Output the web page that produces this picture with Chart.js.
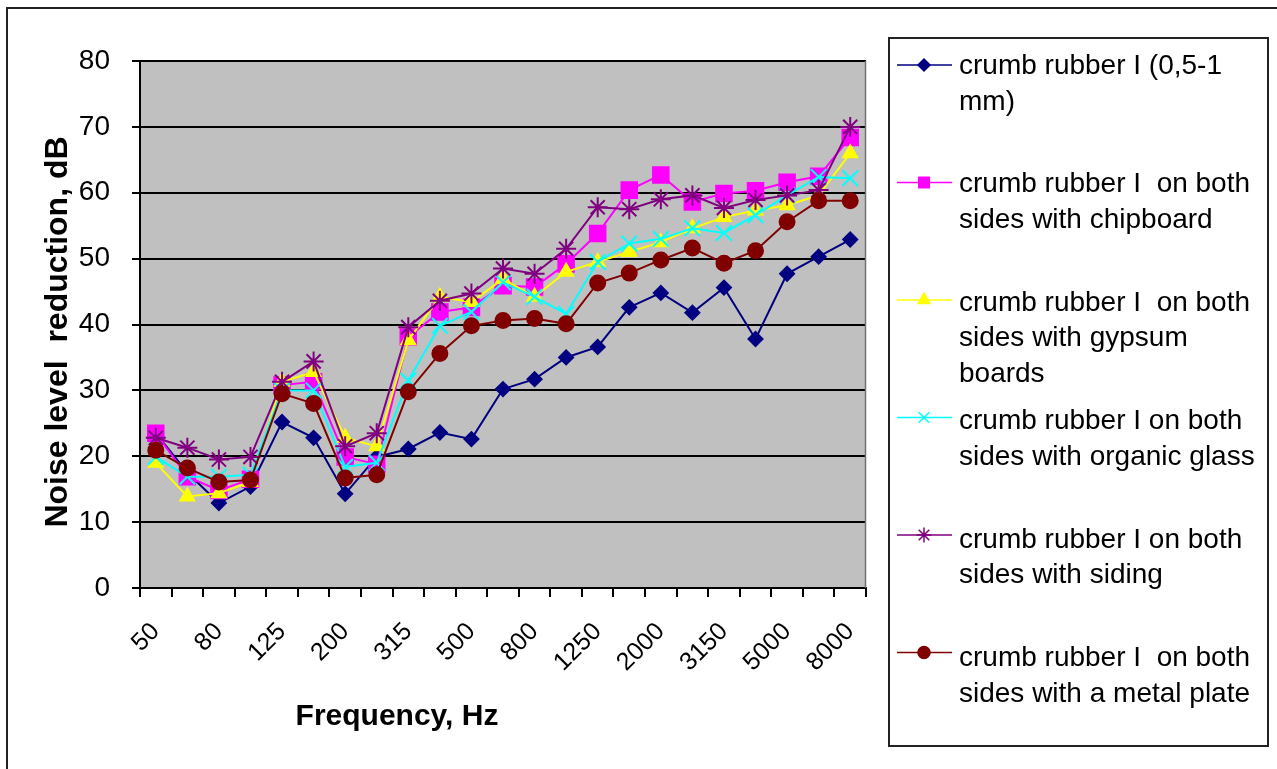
<!DOCTYPE html>
<html>
<head>
<meta charset="utf-8">
<script src="https://cdn.jsdelivr.net/npm/chart.js"></script>
<style>
  body { margin: 0; background: #fff; }
  #wrap { position: relative; width: 1277px; height: 769px; }
</style>
</head>
<body>
<div id="wrap"><canvas id="noiseChart"></canvas></div>
<script>
var frequencies = ["50", "63", "80", "100", "125", "160", "200", "250", "315", "400", "500", "630",
  "800", "1000", "1250", "1600", "2000", "2500", "3150", "4000", "5000", "6300", "8000"];

var crumbRubber = [23.5, 17.5, 12.9, 15.4, 25.2, 22.8, 14.3, 19.9, 21.1, 23.6, 22.6, 30.2,
  31.7, 35, 36.6, 42.6, 44.8, 41.8, 45.6, 37.8, 47.7, 50.3, 52.9];
var chipboard = [23.5, 16.9, 14.8, 16.5, 30.8, 31.3, 19.9, 18.8, 38.1, 41.9, 42.6, 45.9,
  45.7, 49.2, 53.8, 60.4, 62.7, 58.6, 59.9, 60.3, 61.6, 62.5, 68.4];
var gypsum = [19, 13.9, 14.4, 16.1, 31.3, 32.8, 22.8, 21.5, 37.6, 44.2, 43.4, 46.9,
  44.2, 48, 49.5, 51, 52.5, 54.6, 56.3, 57.3, 58.1, 59.6, 66];
var organicGlass = [19.9, 16.9, 16.9, 17.2, 30, 30, 18.4, 19, 31.5, 39.8, 41.9, 46.4,
  44.2, 41.6, 49.5, 52.3, 53, 54.6, 53.9, 56.6, 59.6, 62.4, 62.2];
var siding = [22.8, 21.3, 19.5, 19.9, 31.3, 34.4, 21.5, 23.5, 39.6, 43.6, 44.7, 48.5,
  47.7, 51.5, 57.8, 57.5, 59, 59.6, 57.7, 58.9, 59.6, 60.4, 70];
var metalPlate = [20.9, 18.2, 16.1, 16.4, 29.5, 28, 16.7, 17.2, 29.8, 35.6, 39.8, 40.6,
  40.9, 40.1, 46.3, 47.8, 49.8, 51.6, 49.3, 51.2, 55.6, 58.8, 58.8];

var yTicks = [0, 10, 20, 30, 40, 50, 60, 70, 80];

var seriesNames = [
  ["crumb rubber I (0,5-1", "mm)"],
  ["crumb rubber I  on both", "sides with chipboard"],
  ["crumb rubber I  on both", "sides with gypsum", "boards"],
  ["crumb rubber I on both", "sides with organic glass"],
  ["crumb rubber I on both", "sides with siding"],
  ["crumb rubber I  on both", "sides with a metal plate"]
];
var seriesData = [crumbRubber, chipboard, gypsum, organicGlass, siding, metalPlate];
var seriesColors = ["#000080", "#ff00ff", "#ffff00", "#00ffff", "#800080", "#800000"];
var seriesMarkers = ["rectRot", "rect", "triangle", "crossRot", "star", "circle"];
var markerSizes = [7, 11, 8, 11, 10, 7.5];
var legendSizes = [6, 7.5, 7, 7.5, 7.5, 6];

var font = "'Liberation Sans', Arial, sans-serif";

// gray plot area, outer frame, titles and the legend box
var framePlugin = {
  id: "framePlugin",
  beforeDraw: function (chart) {
    var ctx = chart.ctx, a = chart.chartArea;
    ctx.save();
    ctx.fillStyle = "#fff";
    ctx.fillRect(0, 0, chart.width, chart.height);
    ctx.fillStyle = "#c0c0c0";
    ctx.fillRect(a.left, a.top, a.right - a.left, a.bottom - a.top);
    ctx.restore();
  },
  afterDraw: function (chart) {
    var ctx = chart.ctx, a = chart.chartArea;
    ctx.save();
    // plot area right edge
    ctx.strokeStyle = "#707070";
    ctx.lineWidth = 1.5;
    ctx.beginPath();
    ctx.moveTo(a.right - 0.5, a.top);
    ctx.lineTo(a.right - 0.5, a.bottom);
    ctx.stroke();

    // outer frame
    ctx.strokeStyle = "#222";
    ctx.lineWidth = 2;
    ctx.beginPath();
    ctx.moveTo(7, chart.height);
    ctx.lineTo(7, 8);
    ctx.lineTo(chart.width, 8);
    ctx.stroke();

    // axis titles
    ctx.fillStyle = "#000";
    ctx.font = "bold 30px " + font;
    ctx.textAlign = "center";
    ctx.textBaseline = "middle";
    ctx.fillText("Frequency, Hz", 397, 717);
    ctx.font = "bold 32px " + font;
    ctx.translate(58, 332);
    ctx.rotate(-Math.PI / 2);
    ctx.fillText("Noise level  reduction, dB", 0, 0);
    ctx.setTransform(1, 0, 0, 1, 0, 0);

    // legend
    ctx.strokeStyle = "#222";
    ctx.lineWidth = 2;
    ctx.strokeRect(889, 38, 379, 708);
    ctx.font = "28px " + font;
    ctx.textAlign = "left";
    ctx.textBaseline = "alphabetic";
    for (var i = 0; i < seriesNames.length; i++) {
      var my = 65 + i * 117.5;
      var by = 74 + i * 118.4;
      ctx.strokeStyle = seriesColors[i];
      ctx.fillStyle = seriesColors[i];
      ctx.lineWidth = 1.5;
      ctx.beginPath();
      ctx.moveTo(897, my);
      ctx.lineTo(952, my);
      ctx.stroke();
      Chart.helpers.drawPoint(ctx, {
        pointStyle: seriesMarkers[i],
        radius: legendSizes[i],
        rotation: 0,
        borderWidth: 1.5
      }, 924, my);
      ctx.fillStyle = "#000";
      for (var k = 0; k < seriesNames[i].length; k++) {
        ctx.fillText(seriesNames[i][k], 959, by + k * 35.5);
      }
    }
    ctx.restore();
  }
};

var datasets = seriesData.map(function (data, i) {
  return {
    label: seriesNames[i].join(" "),
    data: data,
    borderColor: seriesColors[i],
    backgroundColor: seriesColors[i],
    pointBackgroundColor: seriesColors[i],
    pointBorderColor: seriesColors[i],
    pointStyle: seriesMarkers[i],
    pointRadius: markerSizes[i],
    pointBorderWidth: 2,
    borderWidth: 2,
    tension: 0,
    fill: false,
    order: seriesData.length - i
  };
});

new Chart(document.getElementById("noiseChart"), {
  type: "line",
  data: { labels: frequencies, datasets: datasets },
  options: {
    responsive: true,
    maintainAspectRatio: false,
    animation: false,
    layout: { padding: { top: 61, right: 411, bottom: 0, left: 0 } },
    plugins: {
      legend: { display: false },
      tooltip: { enabled: false }
    },
    scales: {
      x: {
        offset: true,
        grid: {
          offset: true,
          drawOnChartArea: false,
          drawTicks: true,
          tickLength: 9,
          color: "#000",
          lineWidth: 2
        },
        border: { color: "#000", width: 2 },
        ticks: {
          autoSkip: false,
          maxRotation: 45,
          minRotation: 45,
          padding: 20,
          color: "#000",
          font: { family: font, size: 25 },
          callback: function (value, index) {
            return index % 2 === 0 ? frequencies[index] : "";
          }
        },
        afterFit: function (scale) {
          scale.height = 181;
          scale.paddingLeft = 0;
          scale.paddingRight = 0;
        }
      },
      y: {
        min: yTicks[0],
        max: yTicks[yTicks.length - 1],
        afterBuildTicks: function (scale) {
          scale.ticks = yTicks.map(function (v) { return { value: v }; });
        },
        grid: {
          color: "#000",
          lineWidth: 2,
          drawTicks: true,
          tickLength: 8
        },
        border: { color: "#000", width: 2 },
        ticks: {
          padding: 22,
          color: "#000",
          font: { family: font, size: 28 }
        },
        afterFit: function (scale) {
          scale.width = 140;
          scale.paddingTop = 0;
          scale.paddingBottom = 0;
        }
      }
    }
  },
  plugins: [framePlugin]
});
</script>
</body>
</html>
